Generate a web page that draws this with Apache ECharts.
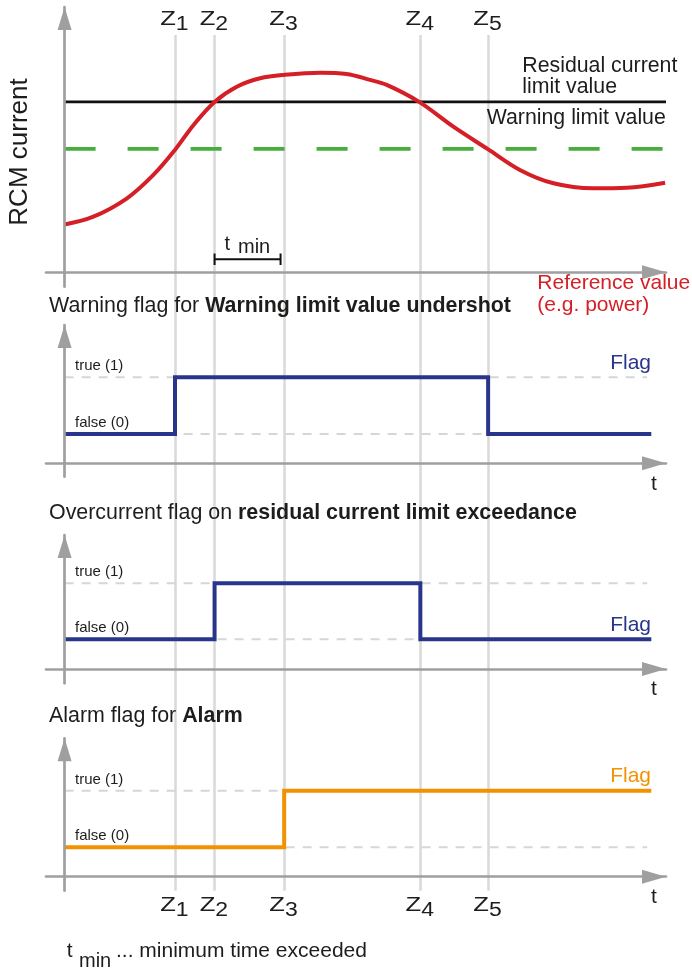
<!DOCTYPE html>
<html><head><meta charset="utf-8">
<script src="https://cdn.jsdelivr.net/npm/echarts@6/dist/echarts.min.js"></script>
<style>html,body{margin:0;padding:0;background:#fff}#c{width:692px;height:971px}</style>
</head><body><div id="c"></div>
<script>
// ---------------- data ----------------
const zNames = ['1', '2', '3', '4', '5'];
const zTimes = [18.4, 25.0, 36.6, 59.3, 70.6];
const rcmTime = [0, 4.8, 10.4, 14.8, 18.4, 21.5, 25.0, 28.7, 32.6, 36.6, 42.6, 47.0, 50.9, 53.7, 59.1, 64.8, 70.5, 75.9, 81.5, 88.1, 93.7, 100.1];
const rcmCurrent = [23.9, 27.8, 37.0, 48.7, 61.2, 73.7, 85.2, 92.8, 97.0, 98.7, 99.8, 99.2, 96.2, 93.7, 85.2, 72.8, 61.7, 51.2, 44.5, 42.0, 42.3, 44.8];
const residualLimit = 85.2;
const warningLimit = 61.7;
const tMinSpan = [25.0, 36.0];
const tMinLevel = 6.5;
const tMinCap = 2.85;
const warnFlagTime = [0, 18.4, 70.6, 97.8];
const warnFlagState = [0, 1, 0, 0];
const overFlagTime = [0, 25.0, 59.3, 97.8];
const overFlagState = [0, 1, 0, 0];
const alarmFlagTime = [0, 36.6, 97.8];
const alarmFlagState = [0, 1, 1];
const flagLevels = [0, 1];
const flagLevelLabels = ['false (0)', 'true (1)'];
const panelTitles = [
  ['Warning flag for ', 'Warning limit value undershot'],
  ['Overcurrent flag on ', 'residual current limit exceedance'],
  ['Alarm flag for ', 'Alarm']
];

// ---------------- layout / style ----------------
const FF = '"Liberation Sans", Arial, Helvetica, sans-serif';
const TXT = '#1d1d1b';
const AX = '#9f9f9f';
const RED = '#d51f26';
const BLUE = '#28358b';
const ORANGE = '#f39200';
const GREEN = '#47ad3b';
const xMin = -3.1, xMax = 100.25, lineEnd = 100.25, dashEnd = 97.1;
const gridLeft = 46, gridRight = 26;

// panels: pixel layout (tip of y arrow, x axis, bottom of y axis) and two reference values with their pixel rows
const panels = [
  {tip: 7, axis: 272.3, bottom: 286.7, v0: 0, p0: 272.3, v1: 100, p1: 72.3},
  {tip: 325, axis: 463.3, bottom: 476.7, v0: 0, p0: 434, v1: 1, p1: 377.3},
  {tip: 535, axis: 669, bottom: 683.3, v0: 0, p0: 639.3, v1: 1, p1: 583.3},
  {tip: 738.3, axis: 876.7, bottom: 890.7, v0: 0, p0: 847.3, v1: 1, p1: 790.7}
];

const grids = [{left: gridLeft, right: gridRight, top: 35, height: 890.7 - 35}];
const xAxes = [{gridIndex: 0, type: 'value', min: xMin, max: xMax, show: false}];
const yAxes = [{gridIndex: 0, type: 'value', min: 0, max: 1, show: false}];
panels.forEach((p, i) => {
  const k = (p.p0 - p.p1) / (p.v1 - p.v0);
  const gi = i + 1;
  grids.push({left: gridLeft, right: gridRight, top: p.tip, height: p.bottom - p.tip});
  xAxes.push({
    gridIndex: gi, type: 'value', min: xMin, max: xMax, position: 'bottom',
    offset: -(p.bottom - p.axis), z: 5,
    axisLine: {show: true, onZero: false, symbol: ['none', 'triangle'], symbolSize: [14, 24], symbolOffset: [0, -12],
      lineStyle: {color: AX, width: 2.7}},
    axisTick: {show: false}, axisLabel: {show: false}, splitLine: {show: false}
  });
  yAxes.push({
    gridIndex: gi, type: 'value', min: p.v0 - (p.bottom - p.p0) / k, max: p.v0 + (p.p0 - p.tip) / k, z: 5,
    axisLine: {show: true, onZero: true, symbol: ['none', 'triangle'], symbolSize: [14, 23], symbolOffset: [0, -11.5],
      lineStyle: {color: AX, width: 2.7}},
    axisTick: {show: false}, axisLabel: {show: false}, splitLine: {show: false}
  });
});

const series = [];
// Z event lines over the whole figure (drawn underneath everything)
series.push({
  type: 'line', xAxisIndex: 0, yAxisIndex: 0, data: [], silent: true, z: 0,
  markLine: {silent: true, z: 0, symbol: 'none', label: {show: false}, animation: false,
    lineStyle: {color: '#d9d9d9', width: 2.5, type: 'solid'},
    data: zTimes.map(t => ({xAxis: t}))}
});
// top panel
series.push({type: 'line', xAxisIndex: 1, yAxisIndex: 1, z: 3, symbol: 'none', silent: true,
  data: [[0, warningLimit], [lineEnd, warningLimit]],
  lineStyle: {color: GREEN, width: 3.6, type: [31, 32], cap: 'butt'}});
series.push({type: 'line', xAxisIndex: 1, yAxisIndex: 1, z: 3, symbol: 'none', silent: true,
  data: [[0, residualLimit], [lineEnd, residualLimit]],
  lineStyle: {color: '#111', width: 2.6}});
series.push({type: 'line', xAxisIndex: 1, yAxisIndex: 1, z: 4, symbol: 'none', silent: true,
  data: [[tMinSpan[0], tMinLevel + tMinCap], [tMinSpan[0], tMinLevel - tMinCap], [tMinSpan[0], tMinLevel],
         [tMinSpan[1], tMinLevel], [tMinSpan[1], tMinLevel + tMinCap], [tMinSpan[1], tMinLevel - tMinCap]],
  lineStyle: {color: '#111', width: 2, join: 'miter'}});
series.push({type: 'line', xAxisIndex: 1, yAxisIndex: 1, z: 4, symbol: 'none', silent: true, smooth: 0.35,
  data: rcmTime.map((t, i) => [t, rcmCurrent[i]]),
  lineStyle: {color: RED, width: 4}});
// flag panels
const flags = [
  {time: warnFlagTime, state: warnFlagState, color: BLUE},
  {time: overFlagTime, state: overFlagState, color: BLUE},
  {time: alarmFlagTime, state: alarmFlagState, color: ORANGE}
];
flags.forEach((f, i) => {
  const gi = i + 2;
  flagLevels.forEach(v => {
    series.push({type: 'line', xAxisIndex: gi, yAxisIndex: gi, z: 2, symbol: 'none', silent: true,
      data: [[0, v], [dashEnd, v]], lineStyle: {color: '#d6d6d6', width: 2, type: [9, 8]}});
  });
  series.push({type: 'line', xAxisIndex: gi, yAxisIndex: gi, z: 4, symbol: 'none', silent: true, step: 'end',
    data: f.time.map((t, j) => [t, f.state[j]]),
    lineStyle: {color: f.color, width: 4, join: 'miter', cap: 'butt'}});
});

const chart = echarts.init(document.getElementById('c'), null, {renderer: 'canvas'});
chart.setOption({animation: false, backgroundColor: '#fff', grid: grids, xAxis: xAxes, yAxis: yAxes, series: series});

// ---------------- text ----------------
const g = [];
function mid(baseline, fs) { return baseline - 0.35 * fs; }
function text(x, y, s, st, extra) {
  g.push(Object.assign({type: 'text', x: x, y: y, silent: true, z: 10,
    style: Object.assign({text: s, fontFamily: FF, fontSize: 21, fill: TXT, align: 'left', verticalAlign: 'middle'}, st || {})}, extra || {}));
}
// Z labels (top and bottom)
zTimes.forEach((t, i) => {
  const px = chart.convertToPixel({gridIndex: 0}, [t, 0])[0];
  [[27, 31], [913, 917]].forEach(b => {
    text(px + 0.8, mid(b[0], 21), 'Z', {fontSize: 21, align: 'right'}, {scaleX: 1.22});
    text(px + 0.8, mid(b[1], 20), zNames[i], {fontSize: 20, align: 'left'}, {scaleX: 1.15});
  });
});
// top panel texts
text(19.5, 152, 'RCM current', {fontSize: 26, align: 'center'}, {rotation: Math.PI / 2});
const limPx = chart.convertToPixel({gridIndex: 1}, [0, residualLimit])[1];
text(522.3, limPx - 28.7 - 7.35, 'Residual current', {fontSize: 21.3});
text(522.3, limPx - 7 - 7.35, 'limit value', {fontSize: 21.3});
text(486.7, limPx + 23.7 - 7.35, 'Warning limit value', {fontSize: 21.3});
const tmPx = chart.convertToPixel({gridIndex: 1}, [tMinSpan[0], tMinLevel]);
text(tmPx[0] + 10, tmPx[1] - 8.3 - 7, 't', {fontSize: 20});
text(tmPx[0] + 23.4, tmPx[1] - 5 - 7, 'min', {fontSize: 20});
text(537.3, mid(290.7, 21), 'Reference value', {fill: RED});
text(537.3, mid(312.5, 21), '(e.g. power)', {fill: RED});
// flag panel texts
const titleBase = [313.3, 521, 723.3];
const flagLabelLevel = [1, 0, 1];
flags.forEach((f, i) => {
  const gi = i + 2;
  g.push({type: 'text', x: 49, y: mid(titleBase[i], 21.4), silent: true, z: 10,
    style: {text: panelTitles[i][0] + '{b|' + panelTitles[i][1] + '}', fontFamily: FF, fontSize: 21.4, fill: TXT,
      align: 'left', verticalAlign: 'middle',
      rich: {b: {fontFamily: FF, fontSize: 21.4, fontWeight: 'bold', fill: TXT}}}});
  flagLevels.forEach((v, j) => {
    const py = chart.convertToPixel({gridIndex: gi}, [0, v])[1];
    text(75, mid(py - 6, 15), flagLevelLabels[j], {fontSize: 15});
  });
  const fy = chart.convertToPixel({gridIndex: gi}, [0, flagLabelLevel[i]])[1];
  text(651, mid(fy - 7, 21), 'Flag', {fill: f.color, align: 'right'});
  text(651, mid(panels[i + 1].axis + 28, 21), 't');
});
// footer
text(66.7, mid(959, 21), 't');
text(79, mid(968, 20), 'min', {fontSize: 20});
text(116, mid(959, 21), '... minimum time exceeded');

chart.setOption({graphic: {elements: g}});
</script>
</body></html>
